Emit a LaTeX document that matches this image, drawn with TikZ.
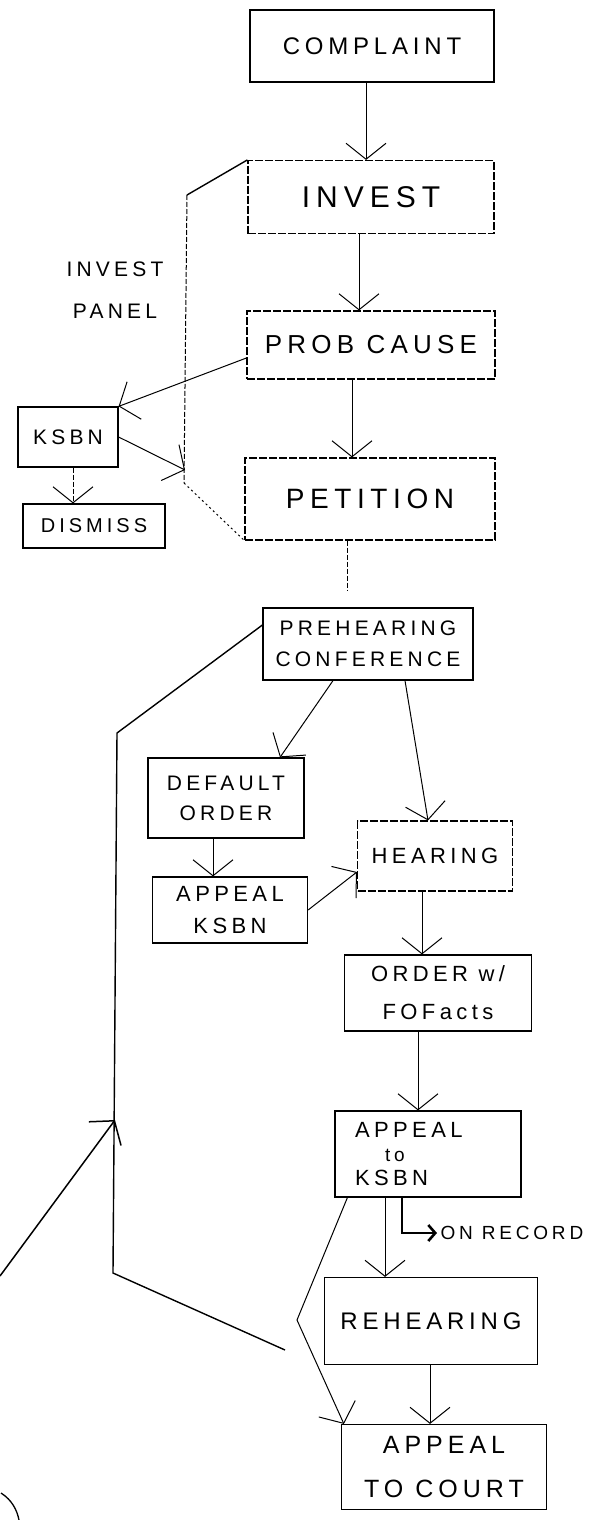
\documentclass[tikz,border=0pt]{standalone}
\usepackage{fontspec}
\setmainfont{Liberation Sans}
\newfontfamily\handfont[LetterSpace=20]{Liberation Sans}
\newcommand\handsize[2]{\handfont\fontsize{#1}{#2}\selectfont}
\usetikzlibrary{arrows.meta}
\tikzset{
  stageBox/.style={draw, line width=1.2pt, align=center, inner sep=0pt},
  faintBox/.style={stageBox, dash pattern=on 8pt off 2pt},
  flowArrow/.style={->, line width=1pt},
  panelLine/.style={line width=1.4pt},
  panelDashed/.style={line width=1pt, dash pattern=on 5pt off 2pt},
  panelDotted/.style={line width=1pt, dash pattern=on 2pt off 3pt}
}
\begin{document}
\begin{tikzpicture}[x=1pt, y=-1pt,
    recordArrow/.style={-{Straight Barb[length=7pt,width=16pt,line width=2.6pt]}, line width=1.3pt},
    >={Straight Barb[length=16pt,width=40pt]}
  ]
  \useasboundingbox (0,0) rectangle (601,1520);

  \node[stageBox, font=\handsize{24}{28}, minimum width=244pt, minimum height=72pt] (complaint) at (372,46) {COMPLAINT};
  \node[faintBox, font=\handsize{30}{34}, minimum width=246pt, minimum height=73pt] (invest) at (371,197) {INVEST};
  \node[faintBox, font=\handsize{26}{30}, minimum width=248pt, minimum height=68pt] (probCause) at (371,345) {PROB CAUSE};
  \node[faintBox, font=\handsize{28}{32}, minimum width=250pt, minimum height=82pt] (petition) at (370,499) {PETITION};
  \node[stageBox, font=\handsize{21}{24}, minimum width=100pt, minimum height=60pt] (ksbn) at (68,437) {KSBN};
  \node[stageBox, font=\handsize{20}{24}, minimum width=142pt, minimum height=44pt] (dismiss) at (94,526) {DISMISS};
  \node[font=\handsize{21}{42}, align=center] (panelLabel) at (115,290) {INVEST\\PANEL};

  \node[stageBox, font=\handsize{21}{31}, minimum width=210pt, minimum height=72pt] (prehearing) at (368,644) {PREHEARING\\CONFERENCE};
  \node[stageBox, font=\handsize{21}{30}, minimum width=156pt, minimum height=80pt] (defaultOrder) at (226,798) {DEFAULT\\ORDER};
  \node[stageBox, font=\handsize{22}{32}, minimum width=155pt, minimum height=66pt] (appealKsbn) at (230,910) {APPEAL\\KSBN};
  \node[faintBox, font=\handsize{22}{25}, minimum width=155pt, minimum height=70pt] (hearing) at (435,856) {HEARING};
  \node[stageBox, font=\handsize{22}{38}, minimum width=187pt, minimum height=76pt] (order) at (438,993) {ORDER w/\\FOFacts};
  \node[stageBox, font=\handsize{22}{24}, align=left, text width=146pt, minimum width=186pt, minimum height=86pt] (appealToKsbn) at (428,1154) {APPEAL\\\hspace*{30pt}{\fontsize{19}{24}\selectfont to}\\KSBN};
  \node[font=\handsize{19}{22}, anchor=west] (onRecord) at (437,1233) {ON RECORD};
  \node[stageBox, font=\handsize{24}{28}, minimum width=213pt, minimum height=87pt] (rehearing) at (431,1321) {REHEARING};
  \node[stageBox, font=\handsize{25}{44}, minimum width=205pt, minimum height=85pt] (appealCourt) at (444,1467) {APPEAL\\TO COURT};

  \coordinate (panelTop) at (187,195);
  \coordinate (panelFoot) at (184,483);
  \coordinate (panelHit) at (185,470);
  \coordinate (boardTop) at (117,733);
  \coordinate (boardFoot) at (113,1273);
  \coordinate (boardEnd) at (285,1350);
  \coordinate (boardHit) at (115,1120);
  \coordinate (offPage) at (0,1276);
  \coordinate (courtKink) at (297,1320);

  \draw[panelLine] (invest.north west) -- (panelTop);
  \draw[panelDashed] (panelTop) -- (panelFoot);
  \draw[panelDotted] (panelFoot) -- (petition.south west);
  \draw[panelLine] ([yshift=19pt]prehearing.west) -- (boardTop) -- (boardFoot) -- (boardEnd);
  \draw[flowArrow, line width=1.5pt] (offPage) -- (boardHit);
  \draw[line width=1.3pt] (1,1493) .. controls (12,1500) and (17,1510) .. (19,1520);

  \draw[flowArrow] ([xshift=-6pt]complaint.south) -- ([xshift=-6pt]complaint.south |- invest.north);
  \draw[flowArrow] ([xshift=-12pt]invest.south) -- ([xshift=-12pt]invest.south |- probCause.north);
  \draw[flowArrow] ([xshift=-19pt]probCause.south) -- ([xshift=-19pt]probCause.south |- petition.north);
  \draw[flowArrow] ([yshift=-13pt]probCause.west) -- (ksbn.north east);
  \draw[flowArrow] (ksbn.east) -- (panelHit);
  \draw[flowArrow, panelDashed] ([xshift=5pt]ksbn.south) -- ([xshift=5pt]ksbn.south |- dismiss.north);
  \draw[panelDashed, shorten >=17pt] ([xshift=-23pt]petition.south) -- ([xshift=-23pt]petition.south |- prehearing.north);

  \draw[flowArrow] ([xshift=-35pt]prehearing.south) -- ([xshift=54pt]defaultOrder.north);
  \draw[flowArrow] ([xshift=37pt]prehearing.south) -- ([xshift=-7pt]hearing.north);
  \draw[flowArrow] ([xshift=-13pt]defaultOrder.south) -- ([xshift=-13pt]defaultOrder.south |- appealKsbn.north);
  \draw[flowArrow] (appealKsbn.east) -- ([yshift=-16pt]hearing.west);
  \draw[flowArrow] ([xshift=-13pt]hearing.south) -- ([xshift=-13pt]hearing.south |- order.north);
  \draw[flowArrow] ([xshift=-20pt]order.south) -- ([xshift=-20pt]order.south |- appealToKsbn.north);
  \draw[flowArrow] ([xshift=-43pt]appealToKsbn.south) -- ([xshift=-43pt]appealToKsbn.south |- rehearing.north);
  \draw[recordArrow] ([xshift=-26pt]appealToKsbn.south) |- (onRecord.west);
  \draw[flowArrow] ([xshift=-1pt]rehearing.south) -- ([xshift=-1pt]rehearing.south |- appealCourt.north);
  \draw[flowArrow] ([xshift=13pt]appealToKsbn.south west) -- (courtKink) -- ([xshift=3pt]appealCourt.north west);
\end{tikzpicture}
\end{document}
